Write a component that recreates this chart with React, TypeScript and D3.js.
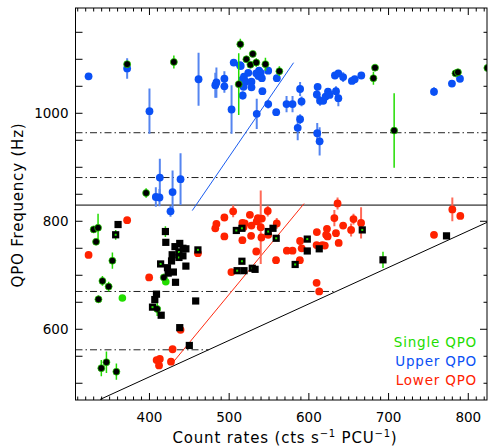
import React from 'react';
import * as d3 from 'd3';

// ---------- data (x = count rate, y = QPO frequency, e = 1-sigma error in Hz) ----------
const xTickValues = [400, 500, 600, 700, 800];
const yTickValues = [600, 800, 1000];
const xDomain = [307.2, 823.5];
const yDomain = [469, 1195];

const upperQPO: number[][] = [
  [323.6, 1068.5, 0], [372, 1083, 19], [400, 1004, 42], [461.6, 1063, 49], [482.6, 1052, 23],
  [484, 1057, 28], [494, 1064, 14], [494, 1050, 12], [503, 1007, 45], [505.7, 1094, 0],
  [513.6, 1089, 0], [514.5, 1087.6, 0], [518.6, 1068, 0], [516, 1062, 0], [520.8, 1058.5, 0],
  [518, 1049, 0], [517, 1033, 8], [528, 1058.5, 0], [528, 1048, 0], [524, 1075, 0],
  [534, 1074, 0], [537.5, 1079, 0], [539.6, 1075, 0], [541, 1065, 0], [536.7, 1069, 0],
  [549, 1079, 0], [541.7, 1041, 0], [559.8, 1065, 0], [534.6, 999, 28], [549, 1017, 8],
  [559, 1002, 0], [572, 1017, 15], [579.5, 1017, 15], [589, 1045, 13], [590.8, 1022, 9],
  [589, 989, 9], [586, 973, 23], [610.5, 963, 19], [613.5, 948, 26], [611, 1049, 0],
  [610, 1035, 9], [614, 1023, 9], [618, 1023, 0], [621, 1031, 0], [624, 1040, 0],
  [626, 1034, 0], [632.7, 1070, 0], [637, 1074, 0], [643, 1067, 9], [634, 1041, 9],
  [637, 1028, 15], [654, 1060, 0], [657.5, 1063, 0], [665.8, 1070, 0], [757, 1040, 8],
  [779.5, 1055, 0], [789.6, 1064, 0],
  [408, 845, 18], [412.6, 844, 16], [413, 881, 35], [429, 854, 40], [426.4, 818.5, 10], [439, 878, 48],
];

const lowerQPO: number[][] = [
  [372, 802, 0], [323.6, 737.6, 0], [399.6, 696, 0], [439, 599, 0], [429, 563, 0],
  [409, 543, 0], [413, 545, 0], [412, 533, 0], [427, 540, 0], [460.8, 741, 0],
  [505, 818.5, 11], [494, 807, 0], [484, 795, 0], [482.6, 787, 0], [494, 772, 0],
  [516.6, 797, 0], [519.5, 796, 0], [518, 789, 0], [526, 812, 0], [528, 792, 0],
  [527.5, 773, 0], [516.6, 765, 0], [534.6, 800, 0], [536, 806, 0], [541, 805, 0],
  [539.6, 789, 68], [540.5, 770, 0], [548.4, 819, 10], [549, 775, 0], [534, 744, 0],
  [559.7, 796, 10], [558.8, 728, 0], [502.8, 706, 0], [572.4, 745.5, 0], [579.5, 745.5, 0],
  [589, 763.5, 0], [591, 750, 0], [588.7, 728, 0], [610, 780, 0], [609.7, 756, 0],
  [613, 754, 0], [617, 756, 0], [620, 755, 0], [622.7, 786, 0], [621.7, 775, 0],
  [623.5, 772, 0], [609.7, 686, 0], [613, 670, 0], [636, 833, 11], [632, 806, 15],
  [643, 792, 0], [656, 804, 10], [665.5, 797, 29], [653, 784, 12], [634, 778, 0],
  [637.4, 760, 0], [780, 822, 22], [790, 810, 0], [757, 775, 0],
];

const singleCircles: number[][] = [
  [372, 1091, 5], [430.6, 1095, 12], [395.8, 852.4, 9], [514, 1128, 10], [512, 1054, 57],
  [521.6, 1100, 0], [529.6, 1110, 0], [526.7, 1090, 0], [534, 1094, 8], [545.5, 1091, 12],
  [563, 1078, 9], [683, 1084.5, 0], [681, 1065, 12], [707, 968, 69], [784, 1074, 0],
  [787, 1076, 0], [824, 1084, 0],
  [330, 785, 5], [335.5, 788, 26], [333, 762, 0], [353.5, 727, 15], [341, 689.5, 9],
  [348.8, 679, 9], [336, 655.5, 7], [339.6, 528, 15], [346, 539, 20], [358.5, 521.5, 15],
  [409.7, 637.6, 13], [418, 696, 0],
];

// [x, y, err, greenCentre]
const singleSquares: number[][] = [
  [360.6, 794, 0, 0], [357.6, 775, 9, 1], [420, 781, 10, 0], [420.5, 761, 0, 0], [414, 721, 0, 1],
  [432, 753, 0, 0], [438, 759, 0, 0], [442, 750, 0, 0], [445.7, 749, 0, 0], [437, 743, 0, 1],
  [428.5, 738, 0, 0], [437, 733, 0, 1], [442, 736, 0, 0], [427.7, 726.5, 0, 0], [422.6, 714, 0, 0],
  [430, 706, 0, 0], [423.5, 704, 0, 0], [432.7, 687, 0, 0], [445.7, 717, 0, 0], [408.8, 665, 0, 0],
  [406.7, 655, 0, 0], [403.8, 641, 0, 1], [414.7, 626, 0, 0], [438, 603, 0, 0], [450, 570, 0, 0],
  [460.8, 747, 0, 1], [458, 652.4, 0, 0], [509, 783, 0, 1], [516, 787, 0, 1], [549, 781, 0, 1],
  [555, 787, 0, 0], [559, 768.5, 0, 1], [516, 726, 0, 1], [510, 708.5, 0, 1], [518.6, 708.5, 0, 0],
  [529, 713, 0, 1], [532.5, 711, 0, 0], [598, 767, 0, 1], [598, 745, 0, 0], [613, 749, 0, 0],
  [582.8, 720, 0, 1], [667, 784, 0, 1], [693, 728.6, 15, 0], [772.7, 773, 0, 0],
];

const singleGreenOnly: number[][] = [[366, 658], [420.5, 688]];

const solidLineY = 830;
const dashDotY = [964, 881, 670, 562];
const diagonalLine = [[338, 470], [825, 799]];
const upperFitLine = [[453.7, 819.8], [580.8, 1093.7]];
const lowerFitLine = [[428.6, 537], [594, 832.8]];

const legendLabels = ['Single QPO', 'Upper QPO', 'Lower QPO'];
const legendColors = ['#22dd00', '#0a50f5', '#ff2200'];

export default function App() {
  const W = 488, H = 448;
  const L = 75.5, R = 487, T = 8, B = 400;
  const x = d3.scaleLinear().domain(xDomain).range([L, R]);
  const y = d3.scaleLinear().domain(yDomain).range([B, T]);
  const line = d3.line<number[]>().x(d => x(d[0])).y(d => y(d[1]));

  const xMinor = d3.range(310, 824, 10).filter(v => v % 100 !== 0);
  const yMinor = d3.range(500, 1195, 50).filter(v => !yTickValues.includes(v));

  const diagXAt = (yy: number) => {
    const [[x0, y0], [x1, y1]] = diagonalLine;
    return x0 + (yy - y0) * (x1 - x0) / (y1 - y0);
  };

  const font = "'DejaVu Sans', sans-serif";
  const blueFill = '#0a50f5', blueErr = '#5585f0';
  const redFill = '#ff2200', redErr = '#ff6a58';
  const green = '#22dd00';

  const errBar = (d: number[], color: string, w: number, key: string) =>
    d[2] > 0 ? (
      <line key={key} x1={x(d[0])} x2={x(d[0])} y1={y(d[1] - d[2])} y2={y(d[1] + d[2])}
        stroke={color} strokeWidth={w} />
    ) : null;

  return (
    <svg width={W} height={H} style={{ position: 'absolute', left: 0, top: 0, background: '#fff' }}>
      <defs>
        <clipPath id="plot"><rect x={L} y={T} width={R - L} height={B - T} /></clipPath>
      </defs>
      <rect x={0} y={0} width={W} height={H} fill="#fff" />
      <g clipPath="url(#plot)">
        {/* reference lines */}
        <line x1={L} x2={R} y1={y(solidLineY)} y2={y(solidLineY)} stroke="#000" strokeWidth={1} />
        {dashDotY.map(v => (
          <line key={'dd' + v} x1={L} x2={x(Math.min(xDomain[1], diagXAt(v)))} y1={y(v)} y2={y(v)}
            stroke="#222" strokeWidth={1} strokeDasharray="7,3,1.5,3" />
        ))}
        <path d={line(diagonalLine) || ''} stroke="#000" strokeWidth={1} fill="none" />
        <path d={line(upperFitLine) || ''} stroke="#1a5cf0" strokeWidth={1} fill="none" />
        <path d={line(lowerFitLine) || ''} stroke="#ff2a10" strokeWidth={1} fill="none" />

        {/* upper QPO */}
        {upperQPO.map((d, i) => errBar(d, blueErr, 2, 'ue' + i))}
        {upperQPO.map((d, i) => <circle key={'u' + i} cx={x(d[0])} cy={y(d[1])} r={3.9} fill={blueFill} />)}

        {/* lower QPO */}
        {lowerQPO.map((d, i) => errBar(d, redErr, 2, 're' + i))}
        {lowerQPO.map((d, i) => <circle key={'l' + i} cx={x(d[0])} cy={y(d[1])} r={3.9} fill={redFill} />)}

        {/* single QPO */}
        {singleGreenOnly.map((d, i) => <circle key={'g' + i} cx={x(d[0])} cy={y(d[1])} r={3.8} fill={green} />)}
        {singleCircles.map((d, i) => errBar(d, green, 1.5, 'se' + i))}
        {singleSquares.map((d, i) => errBar(d, green, 1.5, 'qe' + i))}
        {singleCircles.map((d, i) => (
          <circle key={'s' + i} cx={x(d[0])} cy={y(d[1])} r={3.5} fill="#000" stroke={green} strokeWidth={0.7} />
        ))}
        {singleSquares.map((d, i) => (
          <g key={'q' + i}>
            <rect x={x(d[0]) - 3.6} y={y(d[1]) - 3.6} width={7.2} height={7.2} fill="#000" />
            {d[3] ? <rect x={x(d[0]) - 1} y={y(d[1]) - 1} width={2} height={2} fill={green} /> : null}
          </g>
        ))}
      </g>

      {/* frame */}
      <rect x={L} y={T} width={R - L} height={B - T} fill="none" stroke="#000" strokeWidth={1} />

      {/* x ticks */}
      {xTickValues.map(v => (
        <g key={'xt' + v}>
          <line x1={x(v)} x2={x(v)} y1={B} y2={B - 7} stroke="#000" />
          <line x1={x(v)} x2={x(v)} y1={T} y2={T + 7} stroke="#000" />
          <text x={x(v)} y={421.5} textAnchor="middle" fontFamily={font} fontSize={13.5}>{v}</text>
        </g>
      ))}
      {xMinor.map(v => (
        <g key={'xm' + v}>
          <line x1={x(v)} x2={x(v)} y1={B} y2={B - 3.5} stroke="#000" />
          <line x1={x(v)} x2={x(v)} y1={T} y2={T + 3.5} stroke="#000" />
        </g>
      ))}

      {/* y ticks */}
      {yTickValues.map(v => (
        <g key={'yt' + v}>
          <line x1={L} x2={L + 7} y1={y(v)} y2={y(v)} stroke="#000" />
          <line x1={R} x2={R - 7} y1={y(v)} y2={y(v)} stroke="#000" />
          <text x={68.5} y={y(v) + 5} textAnchor="end" fontFamily={font} fontSize={13.5}>{v}</text>
        </g>
      ))}
      {yMinor.map(v => (
        <g key={'ym' + v}>
          <line x1={L} x2={L + 7} y1={y(v)} y2={y(v)} stroke="#000" />
          <line x1={R} x2={R - 3.5} y1={y(v)} y2={y(v)} stroke="#000" />
        </g>
      ))}

      {/* axis titles */}
      <text x={285} y={443} textAnchor="middle" fontFamily={font} fontSize={15} letterSpacing={0.8}>
        Count rates (cts s<tspan dy={-6} fontSize={10}>−1</tspan><tspan dy={6}> PCU</tspan>
        <tspan dy={-6} fontSize={10}>−1</tspan><tspan dy={6}>)</tspan>
      </text>
      <text transform={`translate(22.5,205) rotate(-90)`} textAnchor="middle" fontFamily={font}
        fontSize={15} letterSpacing={0.8}>QPO Frequency (Hz)</text>

      {/* legend */}
      {legendLabels.map((t, i) => (
        <text key={t} x={477} y={346.7 + i * 19} textAnchor="end" fontFamily={font} fontSize={13.5}
          letterSpacing={0.8} fill={legendColors[i]}>{t}</text>
      ))}
    </svg>
  );
}
